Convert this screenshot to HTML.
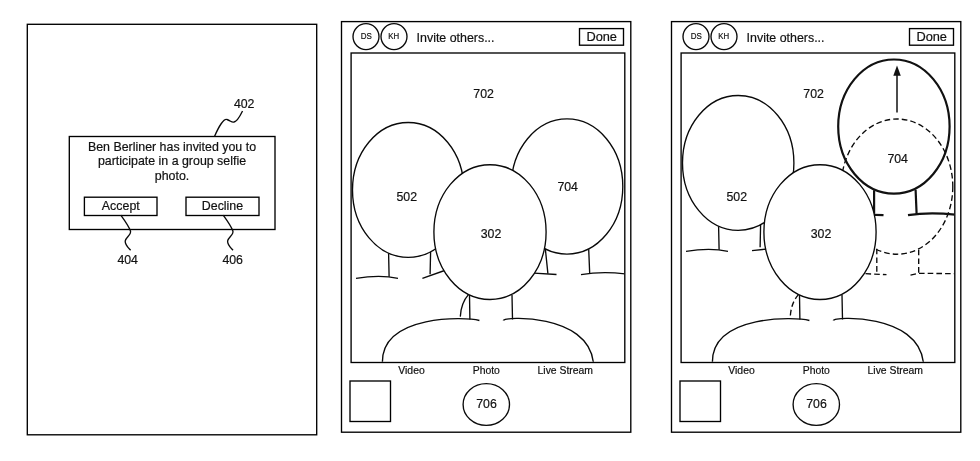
<!DOCTYPE html>
<html><head><meta charset="utf-8"><style>
html,body{margin:0;padding:0;background:#fff;width:980px;height:461px;overflow:hidden}
svg{display:block;filter:blur(0.25px)}
text{font-family:"Liberation Sans",sans-serif;fill:#111;stroke:#111;stroke-width:0.2}
.f{fill:none;stroke:#000;stroke-width:1.35}
.l{fill:none;stroke:#0a0a0a;stroke-width:1.35}
.w{fill:#fff}
.d{stroke-dasharray:5.6 3.1;stroke-width:1.35}
.t{fill:none;stroke:#111;stroke-width:2.2}
.dl{font-size:12.4px}
.lb{font-size:13px}
.hd{font-size:12.8px}
.sm{font-size:8.8px}
.bt{font-size:10.4px}
</style></head><body>
<svg width="980" height="461" viewBox="0 0 980 461">

<rect x="27.3" y="24.3" width="289.4" height="410.5" class="f"/>
<rect x="69.3" y="136.5" width="205.7" height="93" class="f"/>
<text x="172" y="150.7" class="dl" text-anchor="middle">Ben Berliner has invited you to</text>
<text x="172" y="165.4" class="dl" text-anchor="middle">participate in a group selfie</text>
<text x="172" y="180" class="dl" text-anchor="middle">photo.</text>
<rect x="84.4" y="197.2" width="72.6" height="18.3" class="f"/>
<rect x="186" y="197.2" width="73" height="18.3" class="f"/>
<text x="120.8" y="210" class="dl" text-anchor="middle">Accept</text>
<text x="222.5" y="210" class="dl" text-anchor="middle">Decline</text>
<text x="244.2" y="108.4" class="lb" text-anchor="middle" textLength="20.6" lengthAdjust="spacingAndGlyphs">402</text>
<text x="127.7" y="263.6" class="lb" text-anchor="middle" textLength="20.6" lengthAdjust="spacingAndGlyphs">404</text>
<text x="232.7" y="263.6" class="lb" text-anchor="middle" textLength="20.6" lengthAdjust="spacingAndGlyphs">406</text>
<path d="M214.5,136.5 C219,126 224,118 227,119.5 C231,121 232,123 234,122 C238,121 241,114 242.5,111" class="l"/>
<path d="M120.8,215.2 C125,221 129,227 130.5,231 C131.5,235 125.5,237.5 125.2,241 C125,245 128.5,248 130.6,250.3" class="l"/>
<path d="M223.2,215.2 C227.4,221 231.4,227 232.9,231 C233.9,235 227.9,237.5 227.6,241 C227.4,245 230.9,248 233,250.3" class="l"/>

<g transform="translate(0,0)">
<rect x="341.5" y="21.6" width="289.3" height="410.6" class="f"/>
<rect x="351.1" y="53" width="273.7" height="309.5" class="f"/>
<circle cx="366" cy="36.6" r="13" class="l"/>
<circle cx="394" cy="36.6" r="13" class="l"/>
<text x="366.2" y="39.3" class="sm" text-anchor="middle" textLength="11.1" lengthAdjust="spacingAndGlyphs">DS</text>
<text x="393.8" y="39.3" class="sm" text-anchor="middle" textLength="10.9" lengthAdjust="spacingAndGlyphs">KH</text>
<text x="416.6" y="41.6" class="hd" style="font-size:13.2px" textLength="77.9" lengthAdjust="spacingAndGlyphs">Invite others...</text>
<rect x="579.5" y="28.6" width="44" height="16.6" class="f"/>
<text x="601.7" y="40.8" class="hd" text-anchor="middle">Done</text>
<text x="483.6" y="97.7" class="lb" text-anchor="middle" textLength="20.6" lengthAdjust="spacingAndGlyphs">702</text>
<clipPath id="c0"><rect x="351.5" y="53.5" width="272.8" height="308.2"/></clipPath>
<g clip-path="url(#c0)">
<g transform="translate(0,0)">
<path d="M388.6,253.3 L389.1,276.7 M430.6,251.7 L430.1,274.2" class="l"/>
<path d="M356,278.3 Q380,274.5 398,278.3" class="l"/>
<path d="M422.4,278.3 L446,270" class="l"/>
<ellipse cx="408.2" cy="189.9" rx="55.7" ry="67.4" class="l w"/>
</g>
<text x="406.8" y="200.6" class="lb" text-anchor="middle" textLength="20.6" lengthAdjust="spacingAndGlyphs">502</text>
<path d="M545.3,248.5 L547.9,273.6 M588.7,249.2 L589.7,273.6" class="l"/>
<path d="M534,273.2 L556.5,274.5" class="l"/>
<path d="M581,274.7 Q603,270.8 628,274.3" class="l"/>
<ellipse cx="567" cy="186.5" rx="55.8" ry="67.6" class="l w"/>
<text x="567.7" y="191" class="lb" text-anchor="middle" textLength="20.6" lengthAdjust="spacingAndGlyphs">704</text>
<path d="M469.5,295 L469.9,319.5 M512,295 L512.5,319.5" class="l"/>
<path d="M468.6,294.4 Q461,303 460.3,316.6" class="l"/>
<path d="M382.4,362.5 C381.8,313.7 466.7,316.9 479.4,320.5 M503.4,320.5 C502.7,316.6 587.9,312.6 593.4,362.5" class="l"/>
<ellipse cx="490" cy="232.1" rx="56.1" ry="67.4" class="l w"/>
<text x="491" y="238.4" class="lb" text-anchor="middle" textLength="20.6" lengthAdjust="spacingAndGlyphs">302</text>
</g>
<text x="411.5" y="373.8" class="bt" text-anchor="middle">Video</text>
<text x="486.3" y="373.8" class="bt" text-anchor="middle">Photo</text>
<text x="565.3" y="373.8" class="bt" text-anchor="middle">Live Stream</text>
<rect x="350" y="381" width="40.5" height="40.5" class="f"/>
<ellipse cx="486.3" cy="404.5" rx="23.2" ry="20.9" class="l"/>
<text x="486.5" y="408.2" class="lb" text-anchor="middle" textLength="20.6" lengthAdjust="spacingAndGlyphs">706</text>
</g>
<g transform="translate(330,0)">
<rect x="341.5" y="21.6" width="289.3" height="410.6" class="f"/>
<rect x="351.1" y="53" width="273.7" height="309.5" class="f"/>
<circle cx="366" cy="36.6" r="13" class="l"/>
<circle cx="394" cy="36.6" r="13" class="l"/>
<text x="366.2" y="39.3" class="sm" text-anchor="middle" textLength="11.1" lengthAdjust="spacingAndGlyphs">DS</text>
<text x="393.8" y="39.3" class="sm" text-anchor="middle" textLength="10.9" lengthAdjust="spacingAndGlyphs">KH</text>
<text x="416.6" y="41.6" class="hd" style="font-size:13.2px" textLength="77.9" lengthAdjust="spacingAndGlyphs">Invite others...</text>
<rect x="579.5" y="28.6" width="44" height="16.6" class="f"/>
<text x="601.7" y="40.8" class="hd" text-anchor="middle">Done</text>
<text x="483.6" y="97.7" class="lb" text-anchor="middle" textLength="20.6" lengthAdjust="spacingAndGlyphs">702</text>
<clipPath id="c330"><rect x="351.5" y="53.5" width="272.8" height="308.2"/></clipPath>
<g clip-path="url(#c330)">
<g transform="translate(0,-27)">
<path d="M388.6,253.3 L389.1,276.7 M430.6,251.7 L430.1,274.2" class="l"/>
<path d="M356,278.3 Q380,274.5 398,278.3" class="l"/>
<path d="M422,277.7 L437,276" class="l"/>
<ellipse cx="408.2" cy="189.9" rx="55.7" ry="67.4" class="l w"/>
</g>
<text x="406.8" y="200.6" class="lb" text-anchor="middle" textLength="20.6" lengthAdjust="spacingAndGlyphs">502</text>
<path d="M546.8,248.7 L546.8,273.7 M588.7,249.7 L588.7,273.4" class="l d"/>
<path d="M535.5,273.7 L556.5,274.7" class="l d"/>
<path d="M580.5,275.2 L588.7,273.3 L628,273.7" class="l d"/>
<ellipse cx="567" cy="186.6" rx="55.8" ry="67.6" class="l d"/>
<path d="M544.1,190.2 L544.1,213.7 M585.6,189.7 L586.6,213.9" class="t"/>
<path d="M532,214.5 L553.5,215.2" class="t"/>
<path d="M578,215.2 Q600,211.5 628,215" class="t"/>
<ellipse cx="563.9" cy="126.6" rx="55.7" ry="67.1" class="t"/>
<text x="567.7" y="163.4" class="lb" text-anchor="middle" textLength="20.6" lengthAdjust="spacingAndGlyphs">704</text>
<path d="M567,112.6 L567,75" stroke="#111" stroke-width="1.5" fill="none"/>
<path d="M563.3,75.8 L567,65.6 L570.8,75.8 Z" fill="#111"/>
<path d="M469.5,295 L469.9,319.5 M512,295 L512.5,319.5" class="l"/>
<path d="M468.6,294.4 Q461,303 460.3,316.6" class="l d"/>
<path d="M382.4,362.5 C381.8,313.7 466.7,316.9 479.4,320.5 M503.4,320.5 C502.7,316.6 587.9,312.6 593.4,362.5" class="l"/>
<ellipse cx="490" cy="232.1" rx="56.1" ry="67.4" class="l w"/>
<text x="491" y="238.4" class="lb" text-anchor="middle" textLength="20.6" lengthAdjust="spacingAndGlyphs">302</text>
</g>
<text x="411.5" y="373.8" class="bt" text-anchor="middle">Video</text>
<text x="486.3" y="373.8" class="bt" text-anchor="middle">Photo</text>
<text x="565.3" y="373.8" class="bt" text-anchor="middle">Live Stream</text>
<rect x="350" y="381" width="40.5" height="40.5" class="f"/>
<ellipse cx="486.3" cy="404.5" rx="23.2" ry="20.9" class="l"/>
<text x="486.5" y="408.2" class="lb" text-anchor="middle" textLength="20.6" lengthAdjust="spacingAndGlyphs">706</text>
</g>
</svg>
</body></html>
